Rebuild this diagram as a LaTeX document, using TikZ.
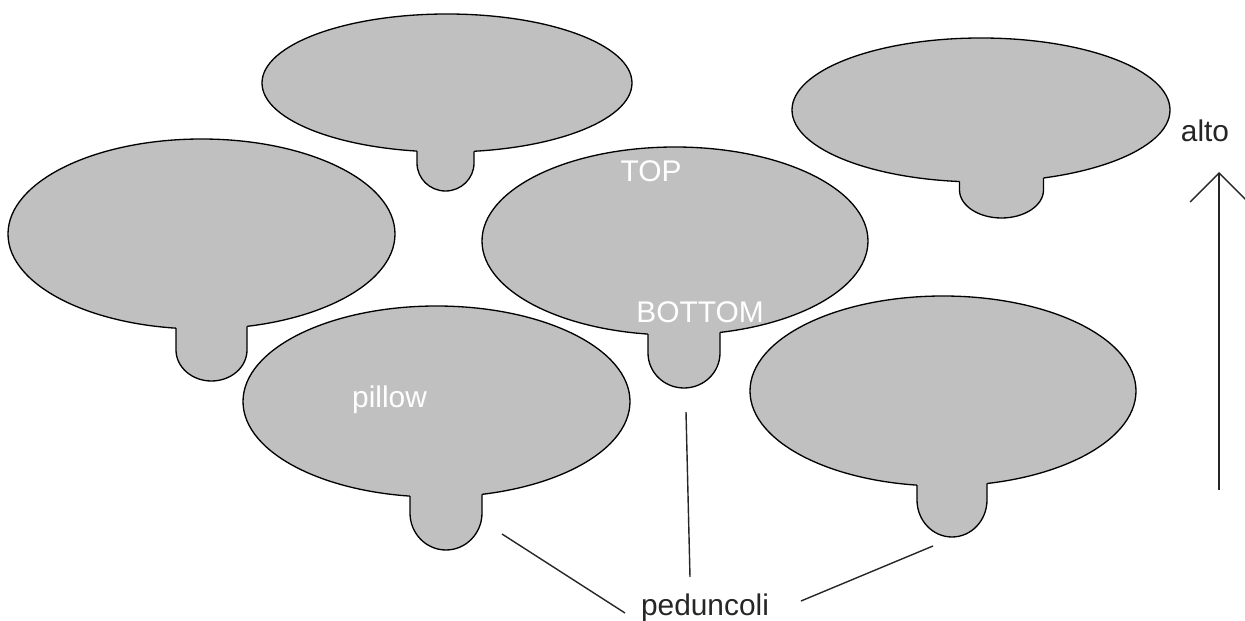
\documentclass[tikz,border=0pt]{standalone}
\usepackage{fontspec}
\setmainfont{Liberation Sans}
\definecolor{pillowgray}{RGB}{192,192,192}
\tikzset{
  pillowbody/.style={fill=pillowgray, draw=black, line width=0.75pt},
  pillowfill/.style={fill=pillowgray, draw=none},
  pillowline/.style={draw=black, line width=0.75pt, line join=round},
  connector/.style={draw=black!85, line width=0.8pt},
  whitelabel/.style={text=white, inner sep=0pt, anchor=base, font=\fontsize{17pt}{20pt}\selectfont},
  blacklabel/.style={text=black!85, inner sep=0pt, anchor=base, font=\fontsize{17pt}{20pt}\selectfont}
}
% #1 cx, #2 cy, #3 rx, #4 ry, #5 peduncle centre x, #6 half width, #7 bottom y, #8 arc depth
\newcommand\pillowshape[8]{%
  \pgfmathsetmacro\pyl{#2+#4*sqrt(1-((#5-#6-#1)/#3)^2)}%
  \pgfmathsetmacro\pyr{#2+#4*sqrt(1-((#5+#6-#1)/#3)^2)}%
  \pgfmathsetmacro\pys{#7-#8}%
  \pgfmathsetmacro\pxl{#5-#6}%
  \pgfmathsetmacro\pxr{#5+#6}%
  \pgfmathsetmacro\pkx{0.5523*#6}%
  \pgfmathsetmacro\pky{#7-0.4477*#8}%
  \path[pillowbody] (#1,#2) ellipse[x radius=#3, y radius=#4];
  \fill[pillowfill] (\pxl,#2) -- (\pxl,\pys) .. controls (\pxl,\pky) and (#5-\pkx,#7) .. (#5,#7)
     .. controls (#5+\pkx,#7) and (\pxr,\pky) .. (\pxr,\pys) -- (\pxr,#2) -- cycle;
  \draw[pillowline] (\pxl,\pyl) -- (\pxl,\pys) .. controls (\pxl,\pky) and (#5-\pkx,#7) .. (#5,#7)
     .. controls (#5+\pkx,#7) and (\pxr,\pky) .. (\pxr,\pys) -- (\pxr,\pyr);
}
\begin{document}
\begin{tikzpicture}[x=0.02cm, y=-0.02cm]
\useasboundingbox (0,0) rectangle (1245,621);
% pillows
\pillowshape{447}{83}{185}{69}{445.5}{28.5}{191}{28}
\pillowshape{981}{110}{189}{72}{1001.5}{42}{218}{28}
\pillowshape{201.5}{234}{193.5}{95}{211.5}{35.5}{381}{31}
\pillowshape{675}{241}{193}{94}{684}{36}{388}{35}
\pillowshape{436.5}{401.5}{193.5}{95.5}{446}{36}{550}{37}
\pillowshape{943}{391}{193}{95}{952}{35}{537}{37}
% labels
\node[whitelabel] (toplbl) at (651,182) {TOP};
\node[whitelabel] (bottomlbl) at (700,323) {BOTTOM};
\node[whitelabel] (pillowlbl) at (389.5,408) {pillow};
\node[blacklabel] (pedlbl) at (705,616) {peduncoli};
\node[blacklabel] (altolbl) at (1205,142) {alto};
% peduncle pointers
\coordinate (p1s) at (502,534);
\coordinate (p1e) at (625,613);
\coordinate (p2s) at (686,412);
\coordinate (p2e) at (690,577);
\coordinate (p3s) at (933,546);
\coordinate (p3e) at (801,601);
\draw[connector] (p1s) -- (p1e);
\draw[connector] (p2s) -- (p2e);
\draw[connector] (p3s) -- (p3e);
% up arrow
\coordinate (arrowtail) at (1219,490);
\coordinate (arrowtip) at (1219,173);
\coordinate (armleft) at (1190,202);
\coordinate (armright) at (1248,202);
\draw[connector] (arrowtail) -- (arrowtip);
\draw[connector] (armleft) -- (arrowtip) -- (armright);
\end{tikzpicture}
\end{document}
